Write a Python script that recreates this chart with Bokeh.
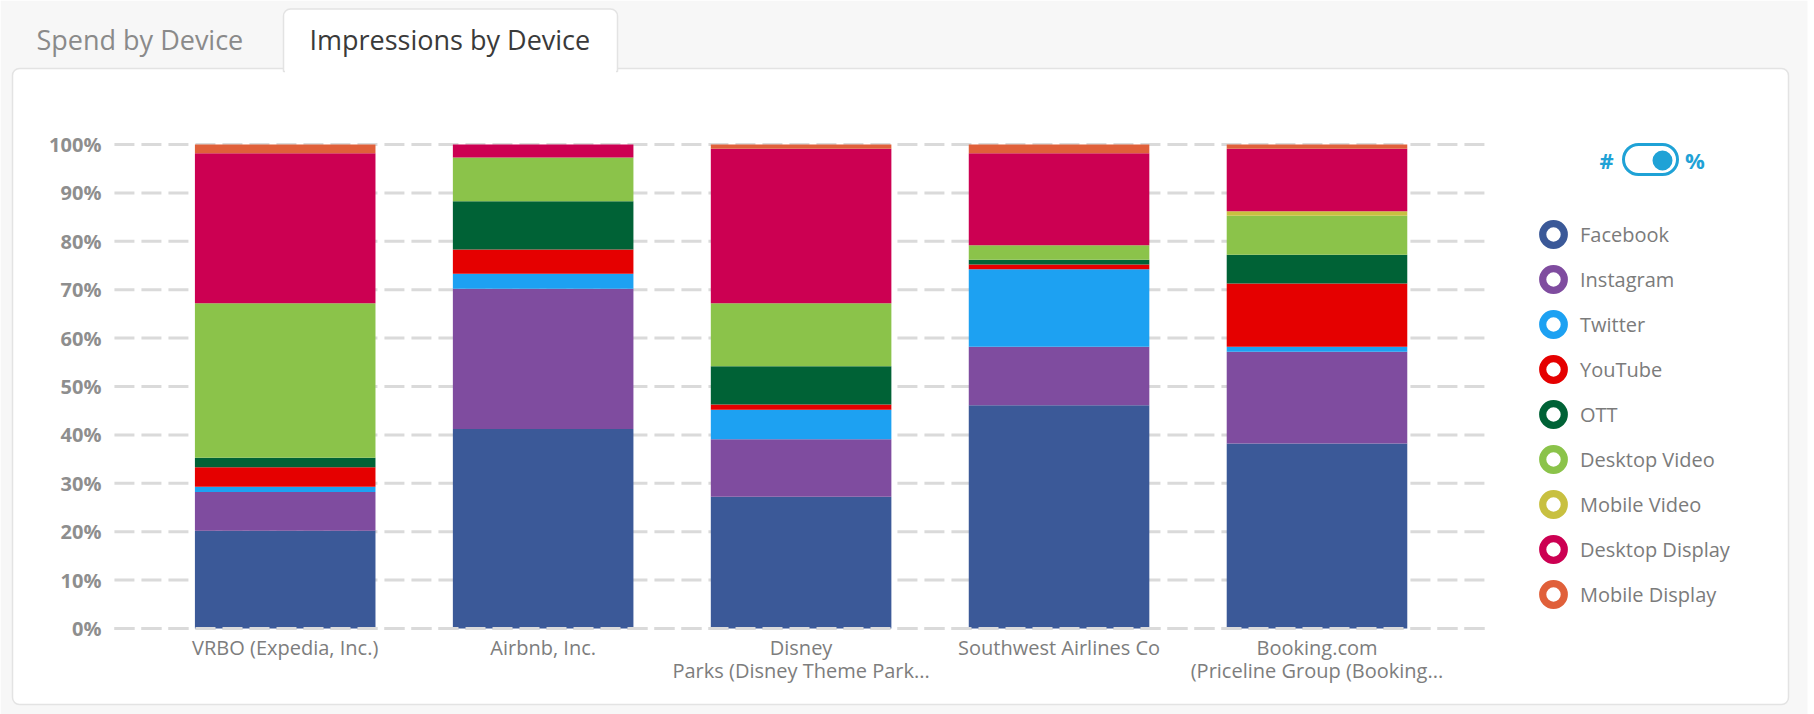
import numpy as np
from bokeh.plotting import figure
from bokeh.models import (Range1d, FixedTicker, PrintfTickFormatter, Legend,
                          LegendItem, Label, BoxAnnotation, ColumnDataSource)
from bokeh.embed import file_html
from bokeh.resources import INLINE

# ---------------- data ----------------
companies = ["VRBO (Expedia, Inc.)", "Airbnb, Inc.", "Disney\nParks (Disney Theme Park...",
             "Southwest Airlines Co", "Booking.com\n(Priceline Group (Booking..."]
channels = ["Facebook", "Instagram", "Twitter", "YouTube", "OTT", "Desktop Video",
            "Mobile Video", "Desktop Display", "Mobile Display"]
facebook = [20.2, 41.2, 27.2, 46.1, 38.2]
instagram = [8.0, 29.0, 11.9, 12.1, 19.0]
twitter = [1.1, 3.1, 6.1, 16.0, 1.0]
youtube = [4.0, 5.0, 1.1, 1.0, 13.1]
ott = [2.0, 10.0, 7.9, 1.0, 5.9]
desktop_video = [31.9, 9.0, 13.0, 3.0, 8.1]
mobile_video = [0.0, 0.0, 0.0, 0.0, 0.9]
desktop_display = [31.0, 2.7, 31.9, 19.0, 12.9]
mobile_display = [1.8, 0.0, 0.9, 1.8, 0.9]
y_ticks = [0, 10, 20, 30, 40, 50, 60, 70, 80, 90, 100]
tab_labels = ["Spend by Device", "Impressions by Device"]

colors = ["#3b5998", "#7f4c9f", "#1da1f2", "#e50000", "#006236", "#8bc34a",
          "#c8c040", "#cc0052", "#e0603a"]

series = [facebook, instagram, twitter, youtube, ott, desktop_video,
          mobile_video, desktop_display, mobile_display]
positions = list(range(len(companies)))
data = {"x": positions}
for name, vals in zip(channels, series):
    data[name] = vals
source = ColumnDataSource(data)

FONT = "Open Sans"
W, H = 1814, 714
GX0, GX1 = -0.662, 4.662       # horizontal extent of the plotting area (category units)

p = figure(x_range=Range1d(-1.1037, 5.9287), y_range=Range1d(-17.769, 129.752),
           width=W, height=H, output_backend="svg", toolbar_location=None, min_border=0)
p.background_fill_color = "white"
p.border_fill_color = "white"
p.outline_line_color = None
p.xgrid.visible = False
p.ygrid.visible = False


def sbox(left, right, top, bottom, **kw):
    # box in canvas pixels (top-left origin)
    return BoxAnnotation(left=left, right=right, top=H - top, bottom=H - bottom,
                         left_units="screen", right_units="screen",
                         top_units="screen", bottom_units="screen", **kw)


# page background, panel and tabs
p.add_layout(sbox(0, 1807, 0, H, fill_color="#f7f7f7", fill_alpha=1, line_color=None, level="image"))
p.add_layout(sbox(12, 1788, 68, 704, fill_color="white", fill_alpha=1, line_color="#e3e3e3",
                  line_alpha=1, line_width=1.5, border_radius=7, level="image"))
p.add_layout(sbox(283, 617, 8.5, 71, fill_color="white", fill_alpha=1, line_color="#e3e3e3",
                  line_alpha=1, line_width=1.5, border_radius=(7, 7, 0, 0), level="image"))
p.add_layout(sbox(284.5, 615.5, 64, 73, fill_color="white", fill_alpha=1, line_color=None, level="image"))
p.add_layout(Label(x=36, y=H - 39, x_units="screen", y_units="screen", text=tab_labels[0],
                   text_font=FONT, text_font_size="27px", text_color="#8a8a8a", text_baseline="middle"))
p.add_layout(Label(x=309, y=H - 39, x_units="screen", y_units="screen", text=tab_labels[1],
                   text_font=FONT, text_font_size="27px", text_color="#3a3a3a", text_baseline="middle"))

# dashed grid lines across the plotting area
p.segment(x0=GX0, x1=GX1, y0=y_ticks, y1=y_ticks, line_color="#dadada", line_width=3, line_dash="20 7")

# stacked bars
p.vbar_stack(channels, x="x", width=0.7, source=source, fill_color=colors, line_color=None)

# axes pinned inside the canvas
p.yaxis.fixed_location = GX0
p.yaxis.ticker = FixedTicker(ticks=y_ticks)
p.yaxis.formatter = PrintfTickFormatter(format="%d%%")
p.yaxis.axis_line_color = None
p.yaxis.major_tick_line_color = None
p.yaxis.minor_tick_line_color = None
p.yaxis.major_tick_out = 0
p.yaxis.major_tick_in = 0
p.yaxis.major_label_standoff = 13
p.yaxis.major_label_text_font = FONT
p.yaxis.major_label_text_font_size = "20px"
p.yaxis.major_label_text_font_style = "bold"
p.yaxis.major_label_text_color = "#8e8e8e"

p.xaxis.fixed_location = 0
p.xaxis.bounds = (GX0, GX1)
p.xaxis.ticker = FixedTicker(ticks=positions)
p.xaxis.major_label_overrides = {i: c for i, c in zip(positions, companies)}
p.xaxis.axis_line_color = "#dadada"
p.xaxis.axis_line_width = 3
p.xaxis.axis_line_dash = "20 7"
p.xaxis.major_tick_line_color = None
p.xaxis.minor_tick_line_color = None
p.xaxis.major_tick_out = 0
p.xaxis.major_tick_in = 0
p.xaxis.major_label_standoff = 6
p.xaxis.major_label_text_font = FONT
p.xaxis.major_label_text_font_size = "20px"
p.xaxis.major_label_text_color = "#7d7d7d"
p.xaxis.major_label_text_line_height = 0.85

# legend with ring markers (annulus glyphs that carry no visible point)
items = []
for name, c in zip(channels, colors):
    r = p.annulus(x=np.array([np.nan]), y=np.array([np.nan]), inner_radius=0.01, outer_radius=0.02,
                  fill_color=c, line_color=None)
    items.append(LegendItem(label=name, renderers=[r]))
legend = Legend(items=items, location=(1535, 102), glyph_width=36, glyph_height=36, spacing=9,
                padding=0, margin=0, label_standoff=9, border_line_color=None,
                background_fill_alpha=0, label_text_font=FONT, label_text_font_size="20px",
                label_text_color="#7b7b7b")
p.add_layout(legend)

# # / % toggle
BLUE = "#1fa2d6"
p.add_layout(sbox(1623, 1677, 144, 174, fill_color="white", fill_alpha=1, line_color=BLUE,
                  line_alpha=1, line_width=3, border_radius=15))
p.add_layout(sbox(1652, 1672, 150, 170, fill_color=BLUE, fill_alpha=1, line_color=None, border_radius=10))
p.add_layout(Label(x=1606, y=H - 159, x_units="screen", y_units="screen", text="#",
                   text_font=FONT, text_font_size="22px", text_font_style="bold", text_color=BLUE,
                   text_align="center", text_baseline="middle"))
p.add_layout(Label(x=1694.5, y=H - 159, x_units="screen", y_units="screen", text="%",
                   text_font=FONT, text_font_size="22px", text_font_style="bold", text_color=BLUE,
                   text_align="center", text_baseline="middle"))

open("out.html", "w").write(file_html(p, INLINE))
